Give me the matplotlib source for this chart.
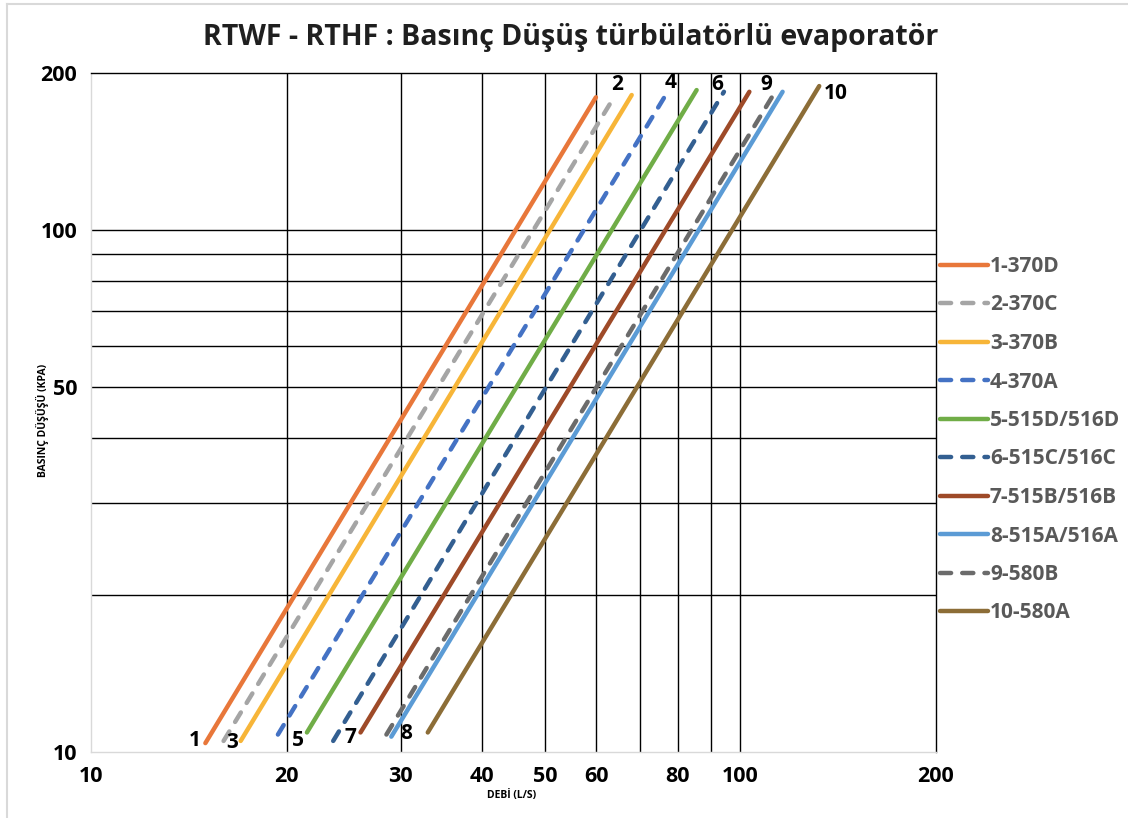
import matplotlib.pyplot as plt
from matplotlib.lines import Line2D

# seri adları, uç noktaları (debi L/S, basınç düşüşü kPa)
names = ['1-370D', '2-370C', '3-370B', '4-370A', '5-515D/516D',
         '6-515C/516C', '7-515B/516B', '8-515A/516A', '9-580B', '10-580A']
flow_start = [15.0, 16.0, 17.0, 19.4, 21.5, 23.6, 26.0, 29.0, 28.5, 33.0]
flow_end = [59.9, 63.1, 68.0, 77.0, 85.6, 94.3, 103.2, 116.1, 112.3, 132.2]
dp_start = [10.4, 10.5, 10.5, 10.8, 10.9, 10.5, 10.9, 10.7, 10.8, 10.9]
dp_end = [179.7, 175.4, 181.5, 182.9, 185.5, 184.1, 184.1, 184.1, 181.5, 188.8]

# eğri numaraları ve konumları
num_text = ['1', '3', '5', '7', '8', '2', '4', '6', '9', '10']
num_x = [14.46, 16.49, 20.83, 25.05, 30.55, 64.5, 78.2, 92.0, 109.5, 140.3]
num_y = [10.5, 10.45, 10.5, 10.64, 10.83, 189.7, 191.4, 190.0, 190.0, 183.1]

x_ticks = [10, 20, 30, 40, 50, 60, 80, 100, 200]
y_ticks = [10, 50, 100, 200]
grid_vals = [20, 30, 40, 50, 60, 70, 80, 90, 100]

colors = ['#E8773A', '#A5A5A5', '#F7B538', '#4472C4', '#70AD47',
          '#335F91', '#9E4A28', '#5B9BD5', '#6B6B6B', '#8C6D37']
dashed = [False, True, False, True, False, True, False, False, True, False]

FONT = 'Open Sans'

fig = plt.figure(figsize=(11.28, 8.18), dpi=100)
ax = fig.add_axes([91 / 1128, 66 / 818, 845 / 1128, 679 / 818])

for i in range(len(names)):
    kw = dict(color=colors[i], lw=3.2, solid_capstyle='round', dash_capstyle='round', label=names[i])
    if dashed[i]:
        kw['dashes'] = (2.5, 2.5)
    ax.plot([flow_start[i], flow_end[i]], [dp_start[i], dp_end[i]], **kw)

for t, x, y in zip(num_text, num_x, num_y):
    ax.text(x, y, t, ha='center', va='center', fontsize=15, fontweight='bold',
            family=FONT, color='black')

ax.set_xscale('log')
ax.set_yscale('log')
ax.set_xlim(10, 200)
ax.set_ylim(10, 200)

ax.xaxis.remove_overlapping_locs = False
ax.yaxis.remove_overlapping_locs = False
ax.xaxis.set_major_locator(plt.FixedLocator(x_ticks))
ax.xaxis.set_minor_locator(plt.FixedLocator(grid_vals))
ax.yaxis.set_major_locator(plt.FixedLocator(y_ticks))
ax.yaxis.set_minor_locator(plt.FixedLocator(grid_vals))
ax.set_xticklabels([str(v) for v in x_ticks])
ax.set_yticklabels([str(v) for v in y_ticks])
ax.xaxis.set_minor_formatter(plt.NullFormatter())
ax.yaxis.set_minor_formatter(plt.NullFormatter())
ax.tick_params(which='both', length=0)
ax.tick_params(axis='x', pad=10)
ax.tick_params(axis='y', pad=10)
for lbl in ax.get_xticklabels() + ax.get_yticklabels():
    lbl.set_fontfamily(FONT)
    lbl.set_fontweight('bold')
    lbl.set_fontsize(15.5)

ax.grid(which='minor', color='black', lw=1.0)
ax.grid(which='major', visible=False)
ax.set_axisbelow(True)

for s in ['top', 'right']:
    ax.spines[s].set_color('black')
    ax.spines[s].set_linewidth(1.0)
for s in ['left', 'bottom']:
    ax.spines[s].set_color('#D9D9D9')
    ax.spines[s].set_linewidth(1.0)

fig.text(512 / 1128, 1 - 795 / 818, 'DEBİ (L/S)', ha='center', va='center',
         fontsize=7.5, fontweight='bold', family=FONT)
fig.text(42 / 1128, 1 - 420 / 818, 'BASINÇ DÜŞÜŞÜ (KPA)', ha='center', va='center',
         rotation=90, fontsize=7.5, fontweight='bold', family=FONT)

fig.text(571 / 1128, 1 - 37 / 818, 'RTWF - RTHF : Basınç Düşüş türbülatörlü evaporatör',
         ha='center', va='center', fontsize=20.5, fontweight='bold', family=FONT,
         color='#1F1F1F')

leg = ax.legend(loc='upper left', bbox_to_anchor=(940 / 1128, 1 - 256 / 818),
                bbox_transform=fig.transFigure, frameon=False,
                handlelength=2.3, handletextpad=0.1, labelspacing=0.84,
                borderpad=0, borderaxespad=0,
                prop={'family': FONT, 'weight': 'bold', 'size': 15})
for txt in leg.get_texts():
    txt.set_color('#595959')

# ince çerçeve (sol ve üst)
fig.add_artist(Line2D([7 / 1128, 7 / 1128], [0, 1 - 4 / 818], transform=fig.transFigure,
                      color='#D9D9D9', lw=1.5))
fig.add_artist(Line2D([7 / 1128, 1], [1 - 4 / 818, 1 - 4 / 818], transform=fig.transFigure,
                      color='#D9D9D9', lw=1.5))

fig.savefig('out.png', dpi=100)
